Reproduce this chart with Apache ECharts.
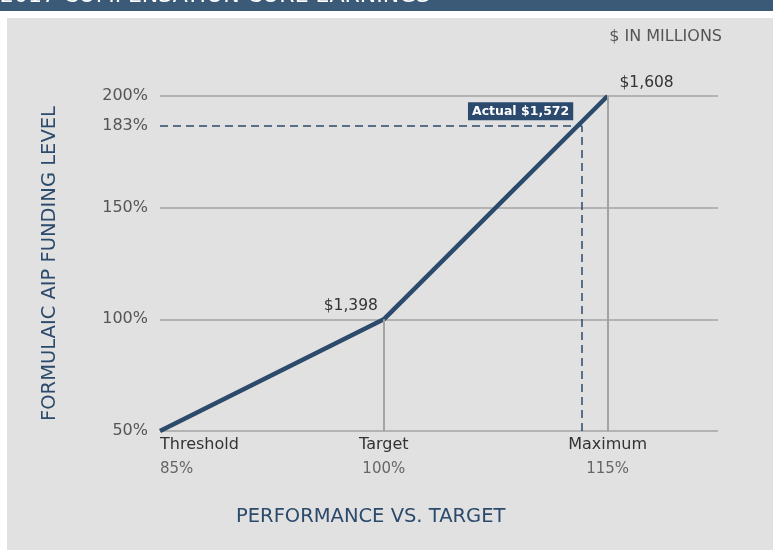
<!DOCTYPE html>
<html>
<head>
<meta charset="utf-8">
<script src="https://cdn.jsdelivr.net/npm/echarts@6/dist/echarts.min.js"></script>
<style>
  html, body { margin: 0; padding: 0; background: #fff; }
  #chart { width: 773px; height: 550px; }
</style>
</head>
<body>
<div id="chart"></div>
<script>
// performance (% of target) vs formulaic AIP funding level
const perfPoints = [85, 100, 115]
const fundingLevels = [50, 100, 200]
const payoutLabels = ['', '$1,398', '$1,608']
const perfNames = ['Threshold', 'Target', 'Maximum']
const perfTickLabels = ['85%', '100%', '115%']
const yTicks = [50, 100, 150, 200]

// actual result
const actualPerf = 113.3
const actualLevel = 186.5
const actualLevelLabel = '183%'
const actualLabel = 'Actual $1,572'

const navy = '#2c4a6b'
const gray = '#a3a3a3'

const chart = echarts.init(document.getElementById('chart'))

const lineData = perfPoints.map((p, i) => {
  const item = { value: [p, fundingLevels[i]] }
  if (i === 1) item.label = { show: true, position: 'top', offset: [-33, 0], formatter: payoutLabels[i] }
  if (i === 2) item.label = { show: true, position: 'top', offset: [39, 0], formatter: payoutLabels[i] }
  return item
})

const option = {
  animation: false,
  backgroundColor: '#fff',
  graphic: [
    { type: 'rect', z: -10, shape: { x: 0, y: 0, width: 773, height: 11 }, style: { fill: '#3b5a78' } },
    { type: 'text', z: -9, x: 0, y: 7, style: { text: '2017 COMPENSATION CORE EARNINGS', fill: '#fff', font: '22px "DejaVu Sans"', verticalAlign: 'bottom' } },
    { type: 'rect', z: -10, shape: { x: 7, y: 18, width: 766, height: 532 }, style: { fill: '#e1e1e1' } },
    { type: 'text', right: 51, top: 29, style: { text: '$ IN MILLIONS', fill: '#555', font: '16px "DejaVu Sans"' } },
    { type: 'text', left: 236, top: 507, style: { text: 'PERFORMANCE VS. TARGET', fill: navy, font: '19.5px "DejaVu Sans"' } }
  ],
  grid: { left: 160, right: 55, top: 96, bottom: 119 },
  xAxis: {
    type: 'value',
    min: 85,
    max: 122.4,
    interval: 15,
    axisLine: { show: false },
    axisTick: { show: false },
    splitLine: { show: false },
    axisLabel: {
      showMaxLabel: false,
      alignMinLabel: 'left',
      margin: 1,
      formatter: v => {
        const i = perfPoints.indexOf(v)
        if (i < 0) return ''
        return '{a|' + perfNames[i] + '}\n{b|' + perfTickLabels[i] + '}'
      },
      rich: {
        a: { fontSize: 16, color: '#333', lineHeight: 25, fontFamily: 'DejaVu Sans' },
        b: { fontSize: 15, color: '#666', lineHeight: 25, fontFamily: 'DejaVu Sans' }
      }
    }
  },
  yAxis: {
    type: 'value',
    min: yTicks[0],
    max: yTicks[yTicks.length - 1],
    interval: 50,
    name: 'FORMULAIC AIP FUNDING LEVEL',
    nameLocation: 'middle',
    nameGap: 100,
    nameTextStyle: { color: navy, fontSize: 19.5, fontFamily: 'DejaVu Sans' },
    axisLine: { show: false },
    axisTick: { show: false },
    axisLabel: { margin: 12, color: '#555', fontSize: 16, fontFamily: 'DejaVu Sans', formatter: '{value}%' },
    splitLine: { lineStyle: { color: gray, width: 1.5 } }
  },
  series: [
    {
      type: 'line',
      z: 1,
      data: [],
      markLine: {
        silent: true,
        symbol: ['none', 'none'],
        label: { show: false },
        data: [
          [{ coord: [perfPoints[1], fundingLevels[0]], lineStyle: { color: gray, width: 2, type: 'solid' } },
           { coord: [perfPoints[1], fundingLevels[1]] }],
          [{ coord: [perfPoints[2], fundingLevels[0]], lineStyle: { color: gray, width: 2, type: 'solid' } },
           { coord: [perfPoints[2], fundingLevels[2]] }],
          [{ coord: [perfPoints[0], actualLevel], lineStyle: { color: navy, width: 1.5, type: [8, 5] },
             label: { show: true, position: 'start', distance: 12, color: '#555', fontSize: 16, fontFamily: 'DejaVu Sans', formatter: actualLevelLabel } },
           { coord: [actualPerf, actualLevel] }],
          [{ coord: [actualPerf, fundingLevels[0]], lineStyle: { color: navy, width: 1.5, type: [8, 5] } },
           { coord: [actualPerf, actualLevel] }]
        ]
      }
    },
    {
      type: 'line',
      z: 3,
      data: lineData,
      showSymbol: true,
      symbol: 'circle',
      symbolSize: 0,
      lineStyle: { color: navy, width: 4.5 },
      itemStyle: { color: navy },
      label: { color: '#333', fontSize: 15.5, fontFamily: 'DejaVu Sans' },
      markPoint: {
        symbol: 'circle',
        symbolSize: 0,
        data: [{ coord: [actualPerf, actualLevel] }],
        label: {
          show: true,
          position: [-9, -6],
          align: 'right',
          verticalAlign: 'bottom',
          formatter: actualLabel,
          color: '#fff',
          fontSize: 12.5,
          fontWeight: 'bold',
          fontFamily: 'DejaVu Sans',
          backgroundColor: '#2b4a6e',
          padding: [3, 4, 2, 4]
        }
      }
    }
  ]
}

chart.setOption(option)
</script>
</body>
</html>
